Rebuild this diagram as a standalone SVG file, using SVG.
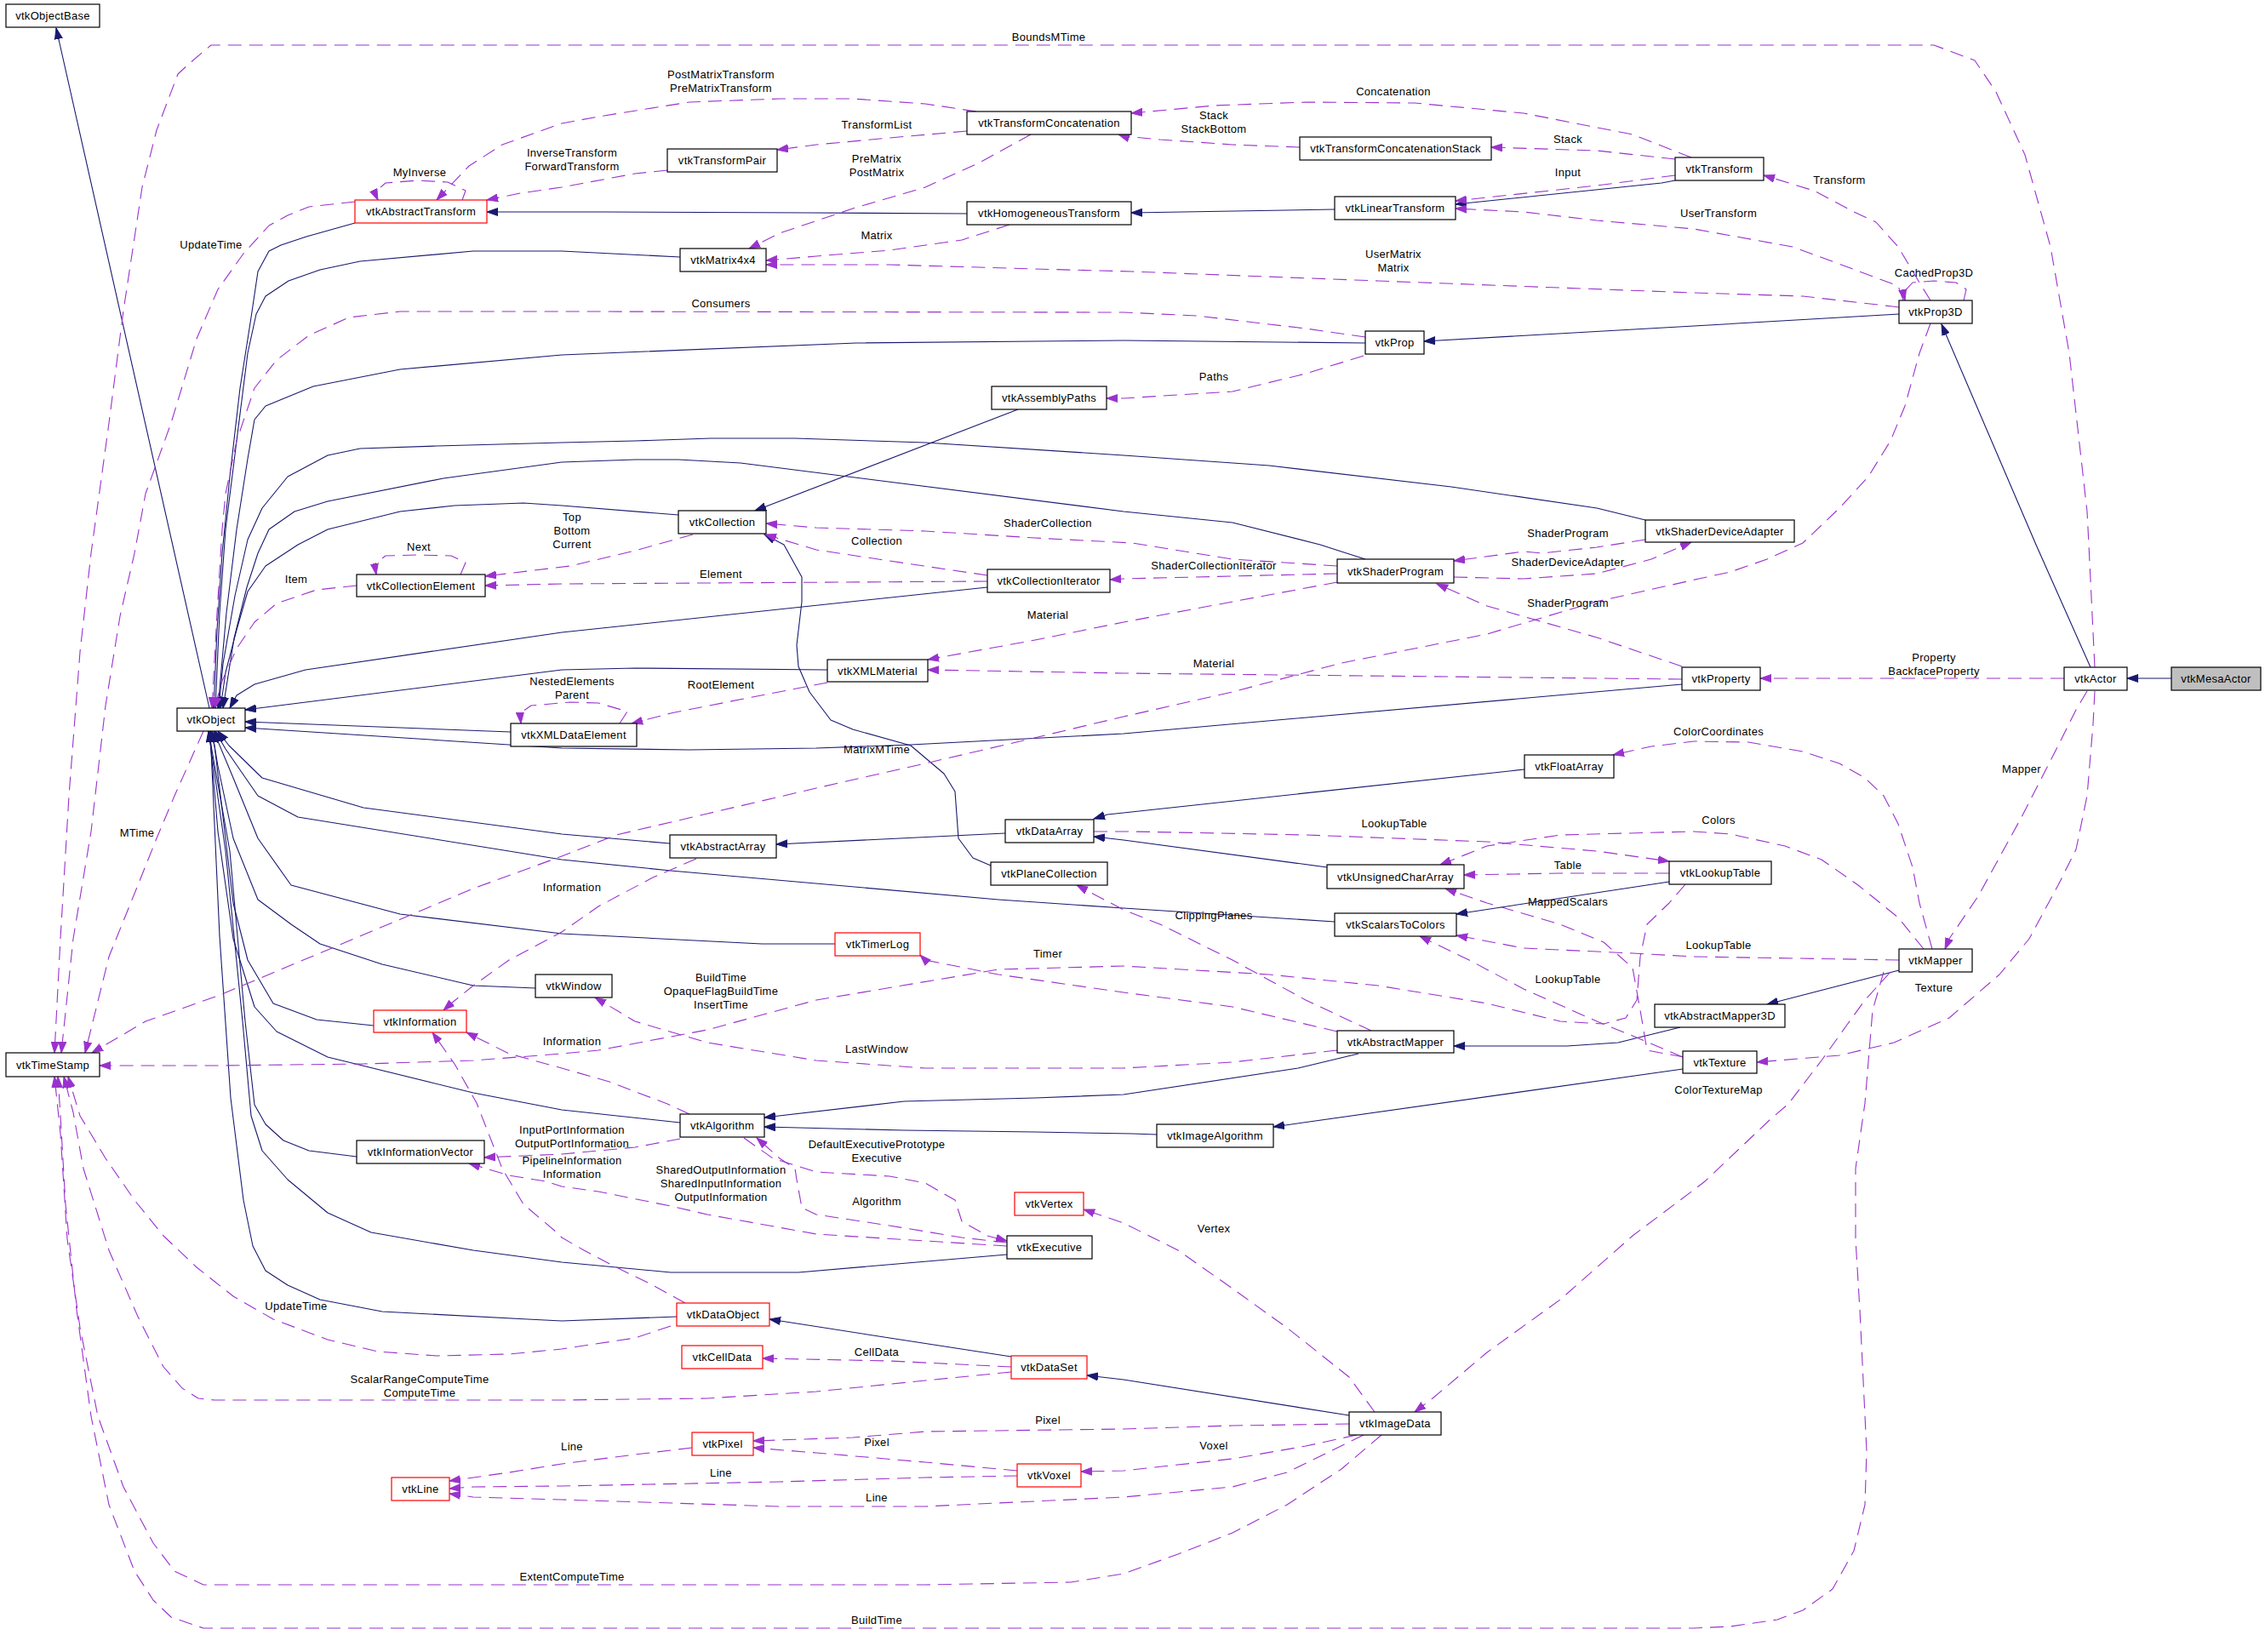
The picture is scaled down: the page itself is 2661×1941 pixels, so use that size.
<svg xmlns="http://www.w3.org/2000/svg" width="2661" height="1941" viewBox="0 0 2661 1941">
<style>
.nd rect{fill:#fff;stroke:#000;stroke-width:1.2}
.nd.r rect{stroke:#ff0000}
.nd.g rect{fill:#bfbfbf}
text{font-family:"Liberation Sans",Arial,sans-serif;font-size:13px;letter-spacing:0.3px;fill:#000;text-anchor:middle}
.n{fill:none;stroke:#191970;stroke-width:1.1;stroke-linejoin:round;marker-end:url(#an)}
.p{fill:none;stroke:#9a32cd;stroke-width:1.1;stroke-dasharray:16,9;stroke-linejoin:round;marker-end:url(#ap)}
</style>
<defs>
<marker id="an" markerWidth="14" markerHeight="10" refX="13" refY="5" orient="auto" markerUnits="userSpaceOnUse"><path d="M0,0.5 L13,5 L0,9.5z" fill="#191970" stroke="#191970" stroke-width="1"/></marker>
<marker id="ap" markerWidth="14" markerHeight="10" refX="13" refY="5" orient="auto" markerUnits="userSpaceOnUse"><path d="M0,0.5 L13,5 L0,9.5z" fill="#9a32cd" stroke="#9a32cd" stroke-width="1"/></marker>
</defs>
<rect width="2661" height="1941" fill="#fff"/>
<g id="edges">
<path class="n" d="M246,832 L66,33"/>
<path class="n" d="M417,262 L360,278 L330,288 L316,295 L303,319 L295,373 L282,456 L270,560 L261,650 L255,740 L251,832"/>
<path class="n" d="M799,302 L660,295 L556,295 L423,307 L376,317 L339,330 L312,348 L301,369 L291,415 L278,518 L265,622 L258,720 L253,832"/>
<path class="n" d="M1604,403 L1320,400 L1216,401 L1006,403 L660,417 L470,434 L368,454 L312,477 L299,493 L291,539 L278,622 L266,720 L256,832"/>
<path class="n" d="M1933,611 L1876,597 L1705,572 L1491,547 L1320,535 L1087,520 L934,515 L835,515 L746,518 L660,520 L513,524 L423,527 L385,535 L338,560 L308,597 L291,634 L276,700 L262,780 L257,832"/>
<path class="n" d="M1604,657 L1582,650 L1551,640 L1448,614 L1320,601 L870,544 L797,540 L746,540 L660,543 L521,562 L385,589 L346,601 L316,622 L303,650 L290,690 L275,750 L262,832"/>
<path class="n" d="M797,605 L660,594 L615,591 L534,594 L470,601 L385,622 L350,640 L312,665 L291,695 L278,740 L265,790 L259,832"/>
<path class="n" d="M1160,690 L660,743 L359,787 L299,804 L278,817 L270,832"/>
<path class="n" d="M972,787 L746,785 L660,787 L288,834"/>
<path class="n" d="M600,860 L288,848"/>
<path class="n" d="M1976,804 L1320,862 L1070,875 L959,879 L810,881 L660,879 L288,855"/>
<path class="n" d="M787,991 L660,980 L427,949 L308,914 L269,876 L256,859"/>
<path class="n" d="M1568,1083 L1320,1067 L1173,1057 L788,1023 L660,1010 L350,960 L303,935 L265,880 L253,859"/>
<path class="n" d="M981,1109 L895,1109 L660,1097 L470,1074 L342,1040 L303,985 L274,914 L251,859"/>
<path class="n" d="M629,1161 L556,1158 L449,1133 L376,1109 L342,1086 L303,1057 L274,985 L256,900 L249,859"/>
<path class="n" d="M439,1205 L372,1198 L321,1179 L291,1128 L274,1061 L252,876 L247,859"/>
<path class="n" d="M799,1319 L660,1304 L556,1284 L385,1242 L325,1212 L299,1183 L274,1103 L256,977 L246,859"/>
<path class="n" d="M419,1359 L363,1352 L333,1340 L312,1321 L299,1298 L288,1200 L270,1000 L245,859"/>
<path class="n" d="M1183,1474 L938,1495 L788,1495 L660,1483 L556,1469 L436,1448 L385,1425 L338,1386 L308,1352 L295,1311 L285,1200 L265,1000 L245,859"/>
<path class="n" d="M795,1547 L660,1552 L620,1550 L449,1541 L376,1527 L338,1510 L312,1493 L297,1464 L286,1410 L271,1290 L258,1100 L247,859"/>
<path class="n" d="M1196,481 L887,600"/>
<path class="n" d="M1164,1017 L1143,1008 L1126,985 L1122,930 L1109,909 L1070,876 L1002,857 L976,846 L951,813 L938,783 L936,758 L942,707 L942,678 L921,640 L898,628"/>
<path class="n" d="M1136,251 L950,250 L711,249 L572,249"/>
<path class="n" d="M1568,246 L1329,250"/>
<path class="n" d="M1968,212 L1952,215 L1710,240"/>
<path class="n" d="M2231,369 L1990,383 L1673,401"/>
<path class="n" d="M2456,784 L2392,640 L2281,381"/>
<path class="n" d="M2551,797 L2499,797"/>
<path class="n" d="M1791,904 L1320,955 L1301,957 L1285,962"/>
<path class="n" d="M1181,979 L912,992"/>
<path class="n" d="M1559,1019 L1320,987 L1285,983"/>
<path class="n" d="M1961,1036 L1711,1074"/>
<path class="n" d="M2231,1140 L2076,1180"/>
<path class="n" d="M1974,1207 L1901,1225 L1841,1229 L1708,1229"/>
<path class="n" d="M1977,1256 L1496,1324"/>
<path class="n" d="M1359,1333 L1330,1332 L1216,1330 L1062,1328 L898,1324"/>
<path class="n" d="M1596,1238 L1525,1255 L1320,1286 L1216,1290 L1062,1294 L898,1313"/>
<path class="n" d="M1188,1594 L1045,1572 L904,1550"/>
<path class="n" d="M1585,1663 L1320,1621 L1277,1616"/>

<path class="p" d="M2461,784 L2454,640 L2452,601 L2431,415 L2409,290 L2379,182 L2345,108 L2320,71 L2272,53 L248,53 L222,75 L209,87 L184,153 L167,220 L145,365 L128,497 L107,650 L94,766 L81,935 L71,1103 L64,1237"/>
<path class="p" d="M417,237 L363,243 L338,253 L316,265 L286,298 L256,340 L231,398 L201,497 L171,580 L158,650 L141,724 L124,829 L107,977 L86,1103 L72,1237"/>
<path class="p" d="M239,859 L205,935 L184,985 L162,1040 L128,1124 L100,1237"/>
<path class="p" d="M2268,380 L2255,415 L2238,477 L2221,518 L2195,560 L2161,597 L2118,638 L2076,657 L2033,672 L1996,680 L1875,707 L1747,745 L1576,779 L1448,813 L1320,842 L1194,872 L1087,897 L959,926 L831,956 L724,981 L660,1006 L556,1044 L385,1116 L256,1170 L171,1200 L108,1237"/>
<path class="p" d="M1980,1039 L1961,1061 L1935,1086 L1927,1124 L1923,1175 L1910,1196 L1884,1203 L1833,1200 L1747,1179 L1619,1158 L1491,1145 L1320,1135 L1173,1139 L959,1175 L831,1210 L703,1234 L660,1238 L556,1246 L427,1250 L256,1252 L117,1252"/>
<path class="p" d="M2425,797 L2068,797"/>
<path class="p" d="M2452,812 L2439,834 L2418,876 L2375,960 L2324,1053 L2290,1103 L2285,1115"/>
<path class="p" d="M2461,812 L2459,851 L2452,935 L2439,998 L2418,1040 L2384,1103 L2349,1145 L2290,1196 L2225,1225 L2161,1240 L2064,1248"/>
<path class="p" d="M2231,1128 L1990,1124 L1918,1120 L1790,1114 L1711,1099"/>
<path class="p" d="M2270,1115 L2255,1061 L2247,1019 L2230,968 L2213,935 L2191,914 L2161,897 L2118,883 L2054,872 L1990,871 L1940,877 L1895,887"/>
<path class="p" d="M2260,1115 L2230,1078 L2183,1040 L2140,1010 L2097,994 L2033,980 L1990,977 L1833,981 L1747,994 L1692,1016"/>
<path class="p" d="M2221,1142 L2191,1175 L2170,1204 L2140,1246 L2101,1297 L2080,1315 L2041,1352 L2003,1388 L1990,1398 L1918,1452 L1833,1527 L1747,1589 L1683,1643 L1662,1659"/>
<path class="p" d="M2213,1142 L2200,1187 L2191,1296 L2180,1373 L2180,1456 L2185,1539 L2189,1622 L2193,1705 L2191,1768 L2178,1822 L2153,1867 L2118,1892 L2088,1903 L2033,1911 L1990,1913 L239,1913 L201,1900 L180,1880 L158,1846 L128,1768 L107,1664 L90,1539 L77,1415 L71,1311 L68,1265"/>
<path class="p" d="M1976,783 L1876,749 L1747,712 L1688,686"/>
<path class="p" d="M1976,798 L1320,791 L1090,787"/>
<path class="p" d="M1933,634 L1876,643 L1811,650 L1790,648 L1708,659"/>
<path class="p" d="M1708,678 L1790,680 L1876,674 L1940,657 L1987,637"/>
<path class="p" d="M1571,665 L1448,657 L1330,638 L1216,632 L1087,624 L959,620 L900,615"/>
<path class="p" d="M1571,674 L1320,680 L1304,681"/>
<path class="p" d="M1571,684 L1448,707 L1320,731 L1216,752 L1090,775"/>
<path class="p" d="M1160,676 L1045,659 L959,646 L899,628"/>
<path class="p" d="M1160,683 L660,686 L570,688"/>
<path class="p" d="M814,628 L746,647 L670,665 L570,677"/>
<path class="p" d="M541,675 L547,661 L530,653 L491,652 L453,653 L440,663 L442,675"/>
<path class="p" d="M419,688 L372,693 L325,709 L299,731 L278,762 L261,800 L252,832"/>
<path class="p" d="M972,802 L874,821 L788,838 L742,850"/>
<path class="p" d="M728,850 L737,836 L703,826 L670,825 L624,829 L611,838 L612,850"/>
<path class="p" d="M1604,396 L1534,386 L1406,371 L1320,367 L670,366 L470,366 L410,373 L363,394 L325,423 L299,456 L278,518 L265,580 L261,622 L255,720 L249,832"/>
<path class="p" d="M1602,418 L1534,439 L1448,460 L1320,468 L1300,468"/>
<path class="p" d="M1147,131 L1087,122 L1002,116 L916,116 L810,120 L703,137 L660,145 L590,170 L551,195 L513,235"/>
<path class="p" d="M543,235 L547,224 L526,214 L491,212 L453,215 L440,226 L444,235"/>
<path class="p" d="M784,200 L746,204 L660,220 L611,227 L572,235"/>
<path class="p" d="M1136,154 L1045,162 L959,170 L913,176"/>
<path class="p" d="M1211,158 L1151,191 L1087,220 L1002,245 L916,274 L880,292"/>
<path class="p" d="M1186,264 L1130,282 L1045,294 L959,301 L900,306"/>
<path class="p" d="M2231,361 L2223,360 L2118,348 L1990,344 L1619,330 L1330,319 L1216,316 L1045,311 L900,311"/>
<path class="p" d="M1987,185 L1918,158 L1790,133 L1662,121 L1534,120 L1427,124 L1329,133"/>
<path class="p" d="M1527,173 L1448,170 L1363,164 L1320,160 L1314,158"/>
<path class="p" d="M1968,187 L1876,177 L1752,173"/>
<path class="p" d="M1968,206 L1876,218 L1747,232 L1710,236"/>
<path class="p" d="M2236,353 L2230,336 L2174,315 L2106,290 L1990,269 L1876,259 L1790,249 L1710,245"/>
<path class="p" d="M2268,353 L2255,332 L2230,290 L2204,261 L2178,249 L2131,224 L2072,206"/>
<path class="p" d="M2307,353 L2310,340 L2298,332 L2272,330 L2247,332 L2236,344 L2238,353"/>
<path class="p" d="M818,1009 L767,1031 L703,1065 L660,1095 L598,1128 L556,1158 L530,1179 L521,1187"/>
<path class="p" d="M1611,1211 L1534,1175 L1448,1128 L1363,1086 L1320,1069 L1265,1040"/>
<path class="p" d="M1571,1212 L1448,1183 L1320,1166 L1173,1145 L1087,1128 L1081,1122"/>
<path class="p" d="M1571,1234 L1448,1248 L1320,1255 L1087,1255 L959,1246 L831,1225 L746,1200 L699,1172"/>
<path class="p" d="M810,1309 L784,1297 L716,1271 L660,1255 L598,1238 L548,1213"/>
<path class="p" d="M799,1338 L746,1348 L660,1356 L569,1360"/>
<path class="p" d="M1183,1464 L1087,1458 L959,1450 L831,1427 L788,1417 L703,1400 L660,1394 L641,1388 L598,1381 L551,1367"/>
<path class="p" d="M1183,1460 L1130,1454 L1045,1440 L959,1427 L942,1419 L936,1386 L934,1373 L916,1361 L889,1337"/>
<path class="p" d="M874,1337 L908,1361 L959,1377 L1045,1382 L1087,1390 L1122,1410 L1130,1435 L1160,1452 L1183,1458"/>
<path class="p" d="M805,1531 L767,1510 L724,1489 L686,1469 L660,1454 L654,1448 L615,1415 L590,1373 L560,1296 L534,1250 L508,1213"/>
<path class="p" d="M1188,1606 L1045,1599 L896,1596"/>
<path class="p" d="M1188,1612 L1087,1622 L959,1635 L831,1643 L660,1645 L252,1645 L233,1643 L214,1631 L192,1606 L162,1547 L128,1469 L98,1373 L86,1307 L75,1265"/>
<path class="p" d="M788,1558 L746,1572 L660,1585 L598,1591 L513,1593 L444,1588 L385,1574 L321,1550 L274,1523 L231,1489 L192,1452 L158,1410 L124,1361 L94,1311 L80,1265"/>
<path class="p" d="M1615,1659 L1585,1618 L1512,1560 L1448,1514 L1384,1469 L1320,1437 L1273,1421"/>
<path class="p" d="M1585,1673 L1448,1675 L1320,1679 L1087,1682 L1002,1689 L885,1693"/>
<path class="p" d="M1594,1686 L1534,1699 L1448,1714 L1320,1728 L1270,1729"/>
<path class="p" d="M1602,1686 L1512,1730 L1448,1747 L1320,1759 L1087,1770 L916,1770 L660,1762 L556,1759 L528,1755"/>
<path class="p" d="M1623,1686 L1576,1726 L1512,1768 L1448,1801 L1384,1826 L1320,1849 L1258,1859 L1087,1862 L239,1862 L205,1846 L180,1813 L145,1747 L115,1664 L94,1560 L79,1456 L71,1332 L64,1265"/>
<path class="p" d="M1195,1728 L1087,1718 L959,1707 L885,1701"/>
<path class="p" d="M1195,1734 L1087,1736 L916,1741 L660,1746 L556,1747 L528,1749"/>
<path class="p" d="M813,1701 L746,1709 L660,1720 L598,1730 L528,1740"/>
<path class="p" d="M1978,1242 L1935,1234 L1927,1187 L1918,1137 L1884,1107 L1833,1086 L1747,1061 L1698,1044"/>
<path class="p" d="M1977,1242 L1918,1217 L1876,1200 L1790,1162 L1726,1128 L1668,1100"/>
<path class="p" d="M1961,1026 L1833,1026 L1720,1028"/>
<path class="p" d="M1285,977 L1330,977 L1534,981 L1747,989 L1876,1000 L1961,1012"/>
</g>
<g id="labels">
<text x="1232" y="48">BoundsMTime</text>
<text x="847" y="92">PostMatrixTransform</text><text x="847" y="108">PreMatrixTransform</text>
<text x="493" y="207">MyInverse</text>
<text x="672" y="184">InverseTransform</text><text x="672" y="200">ForwardTransform</text>
<text x="1030" y="151">TransformList</text>
<text x="1030" y="191">PreMatrix</text><text x="1030" y="207">PostMatrix</text>
<text x="1030" y="281">Matrix</text>
<text x="847" y="361">Consumers</text>
<text x="248" y="292">UpdateTime</text>
<text x="1637" y="112">Concatenation</text>
<text x="1426" y="140">Stack</text><text x="1426" y="156">StackBottom</text>
<text x="1842" y="168">Stack</text>
<text x="1842" y="207">Input</text>
<text x="2019" y="255">UserTransform</text>
<text x="1637" y="303">UserMatrix</text><text x="1637" y="319">Matrix</text>
<text x="1426" y="447">Paths</text>
<text x="2161" y="216">Transform</text>
<text x="2272" y="325">CachedProp3D</text>
<text x="1231" y="619">ShaderCollection</text>
<text x="1030" y="640">Collection</text>
<text x="672" y="612">Top</text><text x="672" y="628">Bottom</text><text x="672" y="644">Current</text>
<text x="348" y="685">Item</text>
<text x="492" y="647">Next</text>
<text x="672" y="805">NestedElements</text><text x="672" y="821">Parent</text>
<text x="161" y="983">MTime</text>
<text x="672" y="1047">Information</text>
<text x="672" y="1228">Information</text>
<text x="847" y="679">Element</text>
<text x="1231" y="727">Material</text>
<text x="847" y="809">RootElement</text>
<text x="1030" y="885">MatrixMTime</text>
<text x="1231" y="1125">Timer</text>
<text x="847" y="1153">BuildTime</text><text x="847" y="1169">OpaqueFlagBuildTime</text><text x="847" y="1185">InsertTime</text>
<text x="1030" y="1237">LastWindow</text>
<text x="1426" y="669">ShaderCollectionIterator</text>
<text x="1842" y="665">ShaderDeviceAdapter</text>
<text x="1842" y="631">ShaderProgram</text>
<text x="1842" y="713">ShaderProgram</text>
<text x="1426" y="784">Material</text>
<text x="2019" y="864">ColorCoordinates</text>
<text x="2019" y="968">Colors</text>
<text x="1638" y="972">LookupTable</text>
<text x="1842" y="1021">Table</text>
<text x="1842" y="1064">MappedScalars</text>
<text x="1426" y="1080">ClippingPlanes</text>
<text x="2019" y="1115">LookupTable</text>
<text x="1842" y="1155">LookupTable</text>
<text x="2272" y="777">Property</text><text x="2272" y="793">BackfaceProperty</text>
<text x="2375" y="908">Mapper</text>
<text x="2272" y="1165">Texture</text>
<text x="2019" y="1285">ColorTextureMap</text>
<text x="672" y="1332">InputPortInformation</text><text x="672" y="1348">OutputPortInformation</text>
<text x="672" y="1368">PipelineInformation</text><text x="672" y="1384">Information</text>
<text x="1030" y="1349">DefaultExecutivePrototype</text><text x="1030" y="1365">Executive</text>
<text x="847" y="1379">SharedOutputInformation</text><text x="847" y="1395">SharedInputInformation</text><text x="847" y="1411">OutputInformation</text>
<text x="1030" y="1416">Algorithm</text>
<text x="348" y="1539">UpdateTime</text>
<text x="493" y="1625">ScalarRangeComputeTime</text><text x="493" y="1641">ComputeTime</text>
<text x="1030" y="1593">CellData</text>
<text x="1426" y="1448">Vertex</text>
<text x="1231" y="1673">Pixel</text>
<text x="1030" y="1699">Pixel</text>
<text x="672" y="1704">Line</text>
<text x="1426" y="1703">Voxel</text>
<text x="847" y="1735">Line</text>
<text x="1030" y="1764">Line</text>
<text x="672" y="1857">ExtentComputeTime</text>
<text x="1030" y="1908">BuildTime</text>
</g>
<g id="vtkMesaActor" class="nd g"><rect x="2551" y="784" width="105" height="27"/><text x="2603.5" y="802">vtkMesaActor</text></g>
<g id="vtkActor" class="nd"><rect x="2425" y="784" width="74" height="27"/><text x="2462" y="802">vtkActor</text></g>
<g id="vtkProp3D" class="nd"><rect x="2231" y="353" width="86" height="27"/><text x="2274" y="371">vtkProp3D</text></g>
<g id="vtkProp" class="nd"><rect x="1604" y="389" width="69" height="27"/><text x="1638.5" y="407">vtkProp</text></g>
<g id="vtkObject" class="nd"><rect x="208" y="832" width="80" height="27"/><text x="248" y="850">vtkObject</text></g>
<g id="vtkObjectBase" class="nd"><rect x="7" y="5" width="110" height="27"/><text x="62" y="23">vtkObjectBase</text></g>
<g id="vtkAbstractTransform" class="nd r"><rect x="417" y="235" width="155" height="27"/><text x="494.5" y="253">vtkAbstractTransform</text></g>
<g id="vtkTransformConcatenation" class="nd"><rect x="1136" y="131" width="193" height="27"/><text x="1232.5" y="149">vtkTransformConcatenation</text></g>
<g id="vtkTransformPair" class="nd"><rect x="784" y="175" width="129" height="27"/><text x="848.5" y="193">vtkTransformPair</text></g>
<g id="vtkHomogeneousTransform" class="nd"><rect x="1136" y="237" width="193" height="27"/><text x="1232.5" y="255">vtkHomogeneousTransform</text></g>
<g id="vtkMatrix4x4" class="nd"><rect x="799" y="292" width="101" height="27"/><text x="849.5" y="310">vtkMatrix4x4</text></g>
<g id="vtkAssemblyPaths" class="nd"><rect x="1165" y="454" width="135" height="27"/><text x="1232.5" y="472">vtkAssemblyPaths</text></g>
<g id="vtkCollection" class="nd"><rect x="797" y="600" width="103" height="27"/><text x="848.5" y="618">vtkCollection</text></g>
<g id="vtkTransformConcatenationStack" class="nd"><rect x="1527" y="161" width="225" height="27"/><text x="1639.5" y="179">vtkTransformConcatenationStack</text></g>
<g id="vtkLinearTransform" class="nd"><rect x="1568" y="231" width="142" height="27"/><text x="1639" y="249">vtkLinearTransform</text></g>
<g id="vtkTransform" class="nd"><rect x="1968" y="185" width="104" height="27"/><text x="2020" y="203">vtkTransform</text></g>
<g id="vtkShaderDeviceAdapter" class="nd"><rect x="1933" y="611" width="175" height="26"/><text x="2020.5" y="629">vtkShaderDeviceAdapter</text></g>
<g id="vtkCollectionElement" class="nd"><rect x="419" y="675" width="151" height="26"/><text x="494.5" y="693">vtkCollectionElement</text></g>
<g id="vtkXMLDataElement" class="nd"><rect x="600" y="850" width="148" height="27"/><text x="674" y="868">vtkXMLDataElement</text></g>
<g id="vtkWindow" class="nd"><rect x="629" y="1145" width="90" height="27"/><text x="674" y="1163">vtkWindow</text></g>
<g id="vtkInformation" class="nd r"><rect x="439" y="1187" width="109" height="26"/><text x="493.5" y="1205">vtkInformation</text></g>
<g id="vtkTimeStamp" class="nd"><rect x="7" y="1237" width="110" height="28"/><text x="62" y="1256">vtkTimeStamp</text></g>
<g id="vtkCollectionIterator" class="nd"><rect x="1160" y="669" width="144" height="27"/><text x="1232" y="687">vtkCollectionIterator</text></g>
<g id="vtkXMLMaterial" class="nd"><rect x="972" y="775" width="118" height="26"/><text x="1031" y="793">vtkXMLMaterial</text></g>
<g id="vtkAbstractArray" class="nd"><rect x="787" y="981" width="125" height="27"/><text x="849.5" y="999">vtkAbstractArray</text></g>
<g id="vtkDataArray" class="nd"><rect x="1181" y="963" width="104" height="27"/><text x="1233" y="981">vtkDataArray</text></g>
<g id="vtkPlaneCollection" class="nd"><rect x="1164" y="1013" width="137" height="27"/><text x="1232.5" y="1031">vtkPlaneCollection</text></g>
<g id="vtkTimerLog" class="nd r"><rect x="981" y="1096" width="100" height="27"/><text x="1031" y="1114">vtkTimerLog</text></g>
<g id="vtkShaderProgram" class="nd"><rect x="1571" y="657" width="137" height="28"/><text x="1639.5" y="676">vtkShaderProgram</text></g>
<g id="vtkProperty" class="nd"><rect x="1976" y="784" width="92" height="27"/><text x="2022" y="802">vtkProperty</text></g>
<g id="vtkFloatArray" class="nd"><rect x="1791" y="887" width="105" height="27"/><text x="1843.5" y="905">vtkFloatArray</text></g>
<g id="vtkUnsignedCharArray" class="nd"><rect x="1559" y="1016" width="161" height="28"/><text x="1639.5" y="1035">vtkUnsignedCharArray</text></g>
<g id="vtkLookupTable" class="nd"><rect x="1961" y="1012" width="120" height="27"/><text x="2021" y="1030">vtkLookupTable</text></g>
<g id="vtkScalarsToColors" class="nd"><rect x="1568" y="1073" width="143" height="27"/><text x="1639.5" y="1091">vtkScalarsToColors</text></g>
<g id="vtkAbstractMapper" class="nd"><rect x="1571" y="1211" width="137" height="26"/><text x="1639.5" y="1229">vtkAbstractMapper</text></g>
<g id="vtkAbstractMapper3D" class="nd"><rect x="1944" y="1180" width="153" height="27"/><text x="2020.5" y="1198">vtkAbstractMapper3D</text></g>
<g id="vtkTexture" class="nd"><rect x="1977" y="1235" width="87" height="26"/><text x="2020.5" y="1253">vtkTexture</text></g>
<g id="vtkMapper" class="nd"><rect x="2231" y="1115" width="86" height="27"/><text x="2274" y="1133">vtkMapper</text></g>
<g id="vtkInformationVector" class="nd"><rect x="419" y="1340" width="150" height="27"/><text x="494" y="1358">vtkInformationVector</text></g>
<g id="vtkLine" class="nd r"><rect x="460" y="1736" width="68" height="27"/><text x="494" y="1754">vtkLine</text></g>
<g id="vtkAlgorithm" class="nd"><rect x="799" y="1309" width="99" height="27"/><text x="848.5" y="1327">vtkAlgorithm</text></g>
<g id="vtkVertex" class="nd r"><rect x="1192" y="1401" width="81" height="27"/><text x="1232.5" y="1419">vtkVertex</text></g>
<g id="vtkExecutive" class="nd"><rect x="1183" y="1452" width="100" height="27"/><text x="1233" y="1470">vtkExecutive</text></g>
<g id="vtkDataObject" class="nd r"><rect x="795" y="1531" width="109" height="27"/><text x="849.5" y="1549">vtkDataObject</text></g>
<g id="vtkCellData" class="nd r"><rect x="801" y="1581" width="95" height="27"/><text x="848.5" y="1599">vtkCellData</text></g>
<g id="vtkDataSet" class="nd r"><rect x="1188" y="1593" width="89" height="27"/><text x="1232.5" y="1611">vtkDataSet</text></g>
<g id="vtkPixel" class="nd r"><rect x="813" y="1683" width="72" height="27"/><text x="849" y="1701">vtkPixel</text></g>
<g id="vtkVoxel" class="nd r"><rect x="1195" y="1720" width="75" height="27"/><text x="1232.5" y="1738">vtkVoxel</text></g>
<g id="vtkImageAlgorithm" class="nd"><rect x="1359" y="1321" width="137" height="27"/><text x="1427.5" y="1339">vtkImageAlgorithm</text></g>
<g id="vtkImageData" class="nd"><rect x="1585" y="1659" width="108" height="27"/><text x="1639" y="1677">vtkImageData</text></g>
</svg>
